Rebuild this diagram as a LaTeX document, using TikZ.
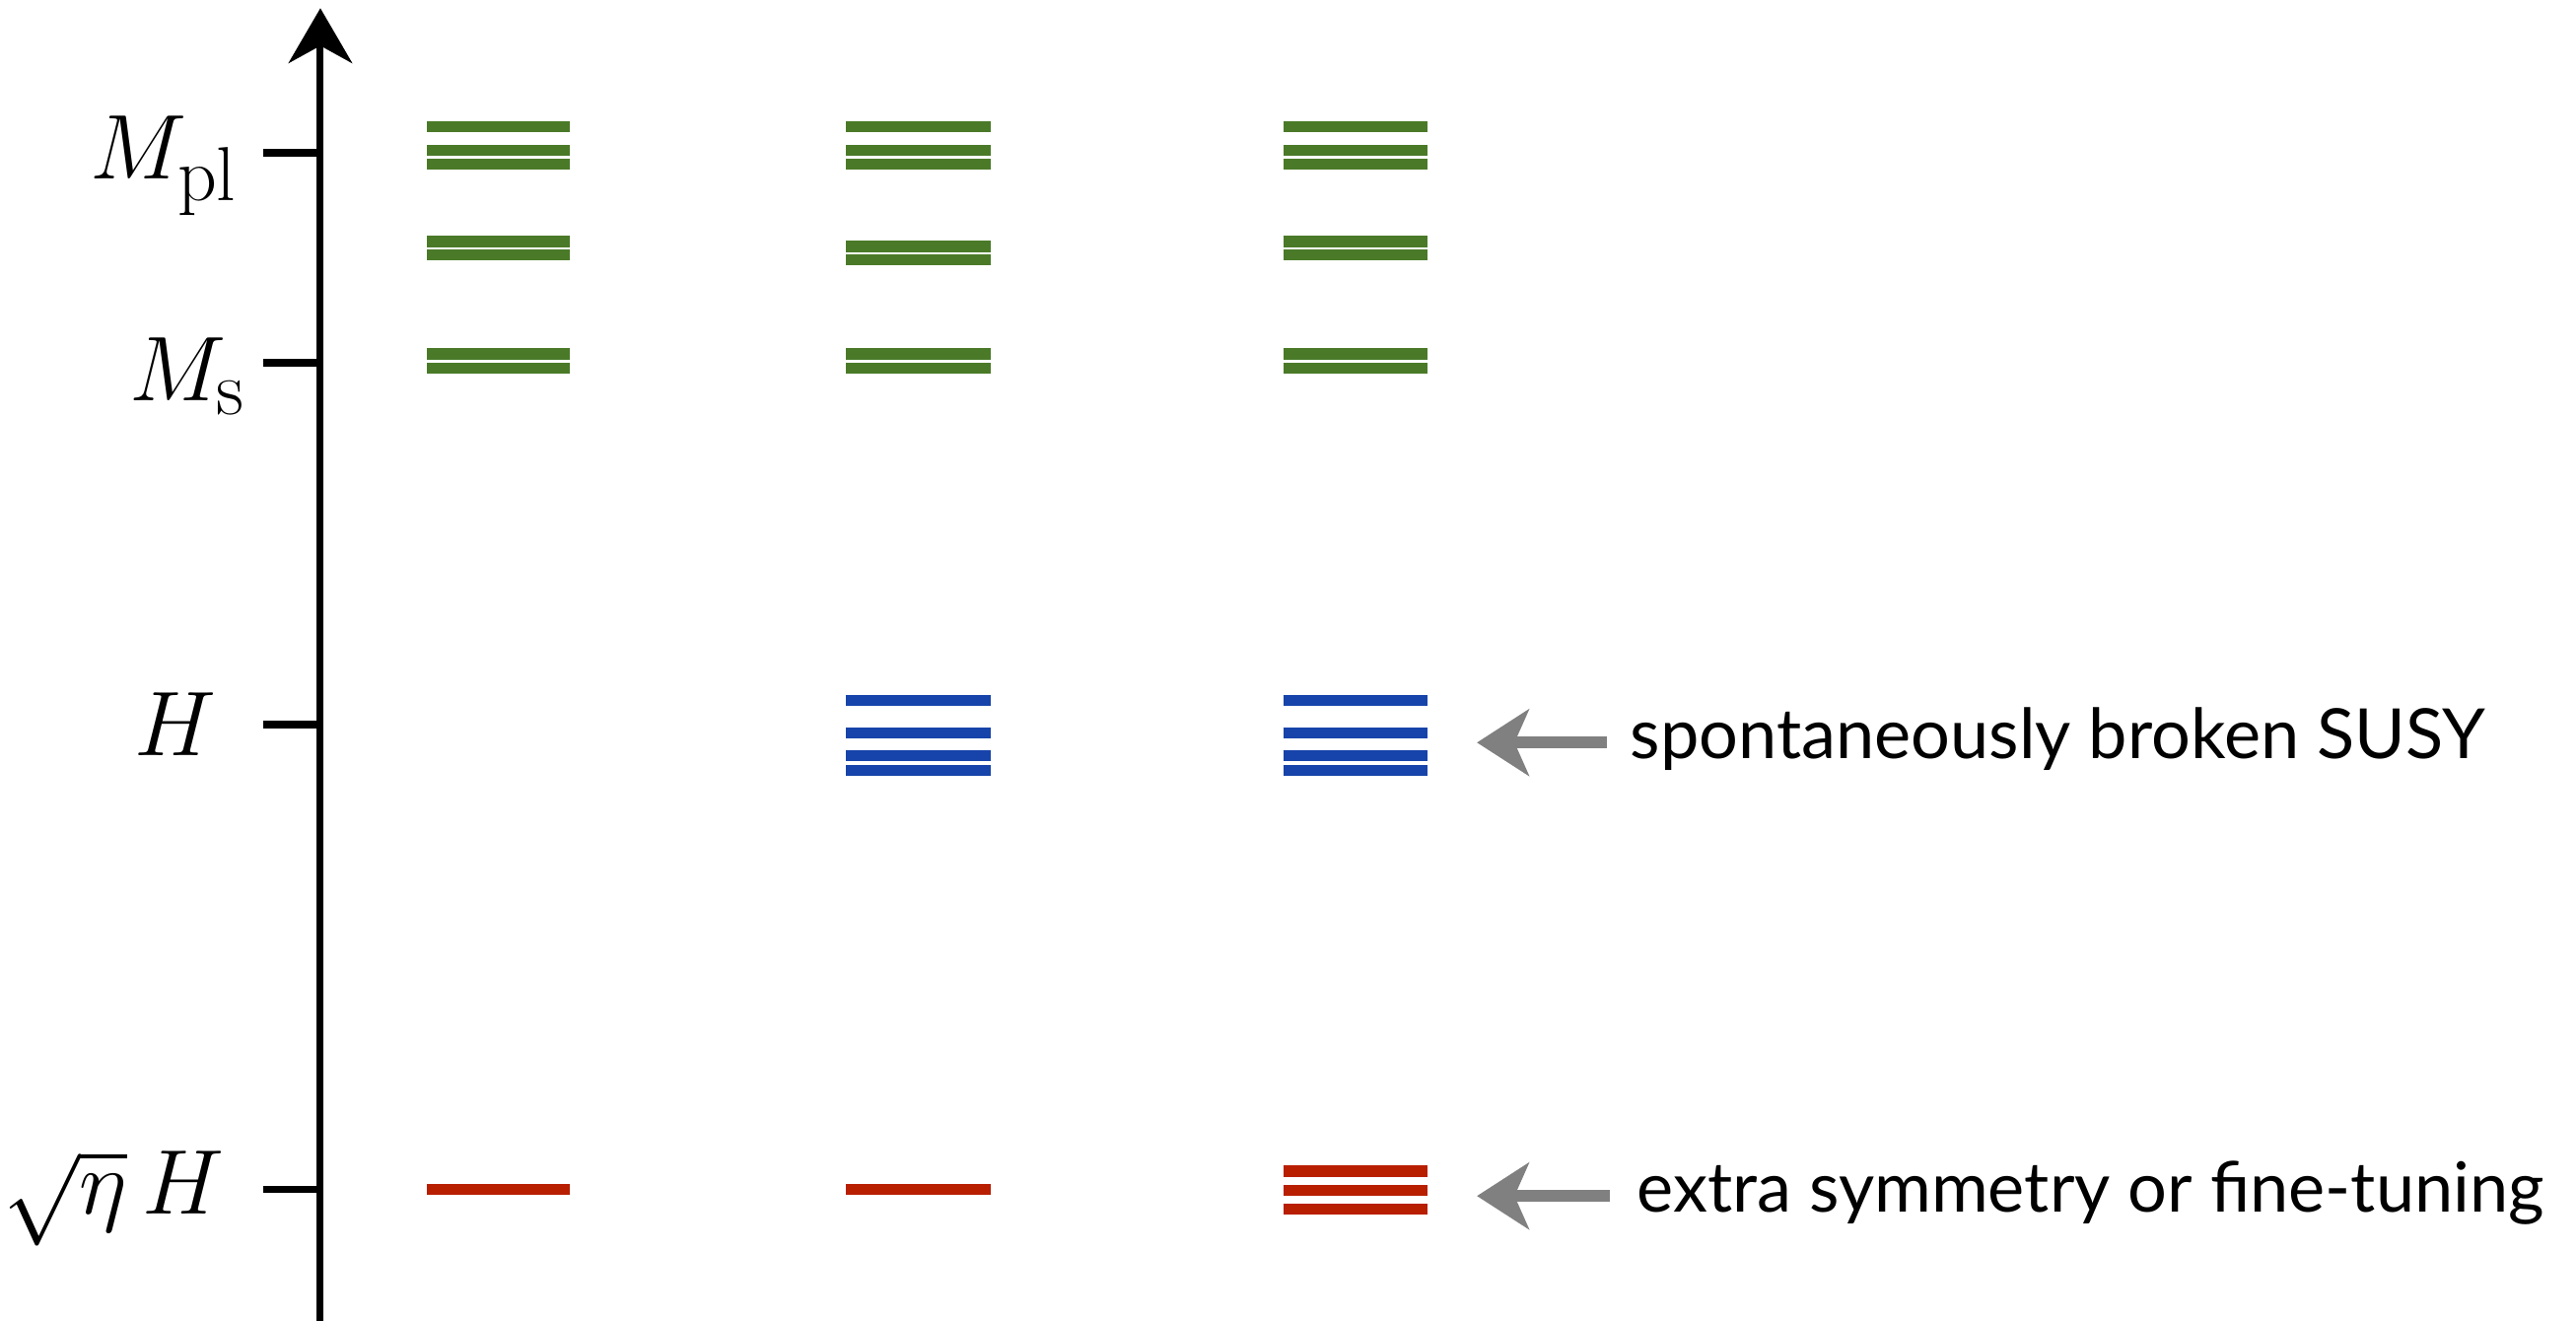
\documentclass[tikz,border=0pt]{standalone}
\usepackage{fontspec}
\setsansfont{Lato}
\usetikzlibrary{arrows.meta}
\definecolor{lvgreen}{RGB}{74,122,40}
\definecolor{lvblue}{RGB}{22,68,170}
\definecolor{lvred}{RGB}{184,30,0}
\definecolor{argray}{RGB}{128,128,128}
\newcommand{\biglabel}[1]{\scalebox{1.28}{\Huge$#1$}}
\begin{document}
\begin{tikzpicture}[x=0.02cm,y=-0.02cm,
  level/.style={line width=3.9pt},
  axisline/.style={line width=2.4pt,-{Stealth[length=19pt,width=22pt,inset=6pt]}},
  tickline/.style={line width=2.6pt},
  masslabel/.style={inner sep=0pt,anchor=base east},
  note/.style={inner sep=0pt,anchor=base west,font=\sffamily\fontsize{24}{28}\selectfont},
  pointer/.style={argray,line width=4pt,-{Stealth[length=18pt,width=23pt,inset=5pt]}}]
\path[use as bounding box] (0,0) rectangle (1568,804);

% axis
\coordinate (axbot) at (195,806);
\coordinate (axtop) at (195,5);
\draw[axisline] (axbot) -- (axtop);

% ticks
\foreach \n/\y in {mpl/93,ms/221,h/441,eta/724}{
  \coordinate (t\n) at (160,\y);
  \coordinate (a\n) at (195,\y);
  \draw[tickline] (t\n) -- (a\n);
}

% labels
\node[masslabel] (lmpl) at (145,109) {\biglabel{M_{\mathrm{pl}}}};
\node[masslabel] (lms) at (150,244) {\biglabel{M_{\mathrm{s}}}};
\node[masslabel] (lh) at (132,460) {\biglabel{H}};
\node[masslabel] (leta) at (137,739) {\biglabel{\sqrt{\eta}\,H}};

% green levels
\foreach \xa/\xb in {260/347,515/603,781/869}{
  \foreach \y in {77,91.5,100,215.5,224}{
    \draw[level,lvgreen] (\xa,\y) -- (\xb,\y);
  }
}
\foreach \y in {147,155}{
  \draw[level,lvgreen] (260,\y) -- (347,\y);
  \draw[level,lvgreen] (781,\y) -- (869,\y);
}
\foreach \y in {150,158}{
  \draw[level,lvgreen] (515,\y) -- (603,\y);
}
% blue levels
\foreach \xa/\xb in {515/603,781/869}{
  \foreach \y in {426.5,446,460,469}{
    \draw[level,lvblue] (\xa,\y) -- (\xb,\y);
  }
}
% red levels
\draw[level,lvred] (260,724) -- (347,724);
\draw[level,lvred] (515,724) -- (603,724);
\foreach \y in {713,724.5,736}{
  \draw[level,lvred] (781,\y) -- (869,\y);
}

% notes and pointers
\node[note] (n1) at (992,462) {spontaneously broken SUSY};
\node[note] (n2) at (996,738) {extra symmetry or fine-tuning};
\coordinate (p1tail) at (978,452);
\coordinate (p1tip) at (899,452);
\coordinate (p2tail) at (980,728);
\coordinate (p2tip) at (899,728);
\draw[pointer] (p1tail) -- (p1tip);
\draw[pointer] (p2tail) -- (p2tip);
\end{tikzpicture}
\end{document}
